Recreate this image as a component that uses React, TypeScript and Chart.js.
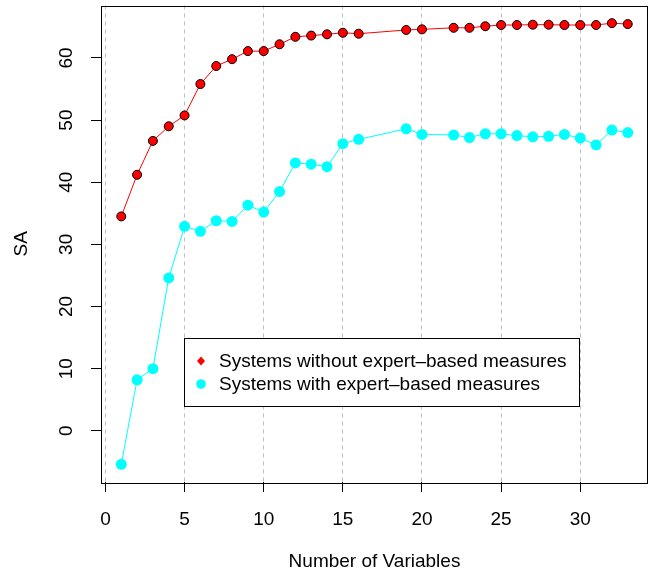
import React, { useEffect, useRef } from "react";
import { Chart, registerables } from "chart.js";

Chart.register(...registerables);

// ---- data ----
const xValues = [1, 2, 3, 4, 5, 6, 7, 8, 9, 10, 11, 12, 13, 14, 15, 16, 19, 20, 22, 23, 24, 25, 26, 27, 28, 29, 30, 31, 32, 33];
const withoutExpert = [34.5, 41.2, 46.65, 49.0, 50.75, 55.8, 58.7, 59.8, 61.1, 61.1, 62.2, 63.4, 63.6, 63.8, 64.05, 63.9, 64.5, 64.6, 64.85, 64.85, 65.1, 65.3, 65.3, 65.35, 65.35, 65.3, 65.3, 65.3, 65.6, 65.45];
const withExpert = [-5.4, 8.2, 10.0, 24.6, 32.9, 32.1, 33.8, 33.7, 36.3, 35.2, 38.5, 43.1, 42.9, 42.5, 46.2, 46.9, 48.6, 47.7, 47.6, 47.2, 47.8, 47.8, 47.5, 47.3, 47.4, 47.7, 47.1, 46.0, 48.4, 48.0];
const xTicks = [0, 5, 10, 15, 20, 25, 30];
const yTicks = [0, 10, 20, 30, 40, 50, 60];
const seriesLabels = ["Systems without expert\u2013based measures", "Systems with expert\u2013based measures"];
const xTitle = "Number of Variables";
const yTitle = "SA";

const FONT = '"Liberation Sans", Arial, Helvetica, sans-serif';
const FS = 19;
const RED = "#FF0000";
const CYAN = "#00FFFF";

// R-style axis range: data range extended by 4% on both sides
function rRange(vals: number[]): [number, number] {
  const lo = Math.min(...vals);
  const hi = Math.max(...vals);
  const d = (hi - lo) * 0.04;
  return [lo - d, hi + d];
}

export default function App() {
  const ref = useRef<HTMLCanvasElement | null>(null);

  useEffect(() => {
    if (!ref.current) return;
    const [xMin, xMax] = rRange(xValues);
    const [yMin, yMax] = rRange([...withoutExpert, ...withExpert]);
    const redPts = xValues.map((x, i) => ({ x, y: withoutExpert[i] }));
    const cyanPts = xValues.map((x, i) => ({ x, y: withExpert[i] }));

    const decor = {
      id: "decor",
      afterDraw(chart: any) {
        const ctx = chart.ctx as CanvasRenderingContext2D;
        const ca = chart.chartArea;
        const ys = chart.scales.y;
        ctx.save();
        // plot box
        ctx.strokeStyle = "#000";
        ctx.lineWidth = 1;
        ctx.strokeRect(Math.round(ca.left) + 0.5, Math.round(ca.top) + 0.5, Math.round(ca.right - ca.left) - 1, Math.round(ca.bottom - ca.top));
        // rotated y tick labels
        ctx.fillStyle = "#000";
        ctx.font = `${FS}px ${FONT}`;
        ctx.textAlign = "center";
        ctx.textBaseline = "middle";
        for (const v of yTicks) {
          const py = ys.getPixelForValue(v);
          ctx.save();
          ctx.translate(67, py);
          ctx.rotate(-Math.PI / 2);
          ctx.fillText(String(v), 0, 0);
          ctx.restore();
        }
        // legend
        const lx = 184, ly = 338, lw = 395, lh = 68;
        ctx.fillStyle = "#fff";
        ctx.fillRect(lx, ly, lw, lh);
        ctx.strokeStyle = "#000";
        ctx.strokeRect(lx + 0.5, ly + 0.5, lw, lh);
        const mx = 201;
        const y1 = 361, y2 = 384;
        // red diamond
        ctx.fillStyle = RED;
        ctx.beginPath();
        ctx.moveTo(mx, y1 - 4.5);
        ctx.lineTo(mx + 4, y1);
        ctx.lineTo(mx, y1 + 4.5);
        ctx.lineTo(mx - 4, y1);
        ctx.closePath();
        ctx.fill();
        // cyan circle
        ctx.fillStyle = CYAN;
        ctx.beginPath();
        ctx.arc(mx, y2, 4.8, 0, Math.PI * 2);
        ctx.fill();
        ctx.fillStyle = "#000";
        ctx.textAlign = "left";
        ctx.textBaseline = "alphabetic";
        ctx.fillText(seriesLabels[0], 219, 367);
        ctx.fillText(seriesLabels[1], 219, 390);
        ctx.restore();
      },
    };

    const chart = new Chart(ref.current, {
      type: "scatter",
      data: {
        datasets: [
          {
            label: seriesLabels[0],
            data: redPts,
            showLine: true,
            borderColor: RED,
            borderWidth: 1,
            pointStyle: "circle",
            pointRadius: 4.5,
            pointBackgroundColor: RED,
            pointBorderColor: "#000",
            pointBorderWidth: 1,
          },
          {
            label: seriesLabels[0] + " (marker)",
            data: redPts,
            showLine: false,
            pointStyle: "rectRot",
            pointRadius: 4,
            pointBackgroundColor: RED,
            pointBorderWidth: 0,
          },
          {
            label: seriesLabels[1],
            data: cyanPts,
            showLine: true,
            borderColor: CYAN,
            borderWidth: 1,
            pointStyle: "circle",
            pointRadius: 5.5,
            pointBackgroundColor: CYAN,
            pointBorderWidth: 0,
          },
        ],
      } as any,
      options: {
        animation: false,
        responsive: false,
        devicePixelRatio: 1,
        layout: { padding: { left: 0, top: 4, right: 9, bottom: 0 } },
        plugins: { legend: { display: false }, tooltip: { enabled: false } },
        scales: {
          x: {
            type: "linear",
            position: "bottom",
            min: xMin,
            max: xMax,
            afterBuildTicks: (s: any) => {
              s.ticks = xTicks.map((v) => ({ value: v }));
            },
            afterFit: (s: any) => {
              s.height = 94;
            },
            ticks: { color: "#000", font: { family: FONT, size: FS }, padding: 16, maxRotation: 0, autoSkip: false },
            grid: { color: "#BEBEBE", lineWidth: 1, drawTicks: true, tickLength: 10, tickColor: "#000", tickWidth: 1 },
            border: { display: false, dash: [4, 4] },
            title: { display: true, text: xTitle, color: "#000", font: { family: FONT, size: FS }, padding: { top: 0, bottom: 3 } },
          },
          y: {
            type: "linear",
            position: "left",
            min: yMin,
            max: yMax,
            afterBuildTicks: (s: any) => {
              s.ticks = yTicks.map((v) => ({ value: v }));
            },
            afterFit: (s: any) => {
              s.width = 101;
            },
            ticks: { display: false },
            grid: { drawOnChartArea: false, drawTicks: true, tickLength: 10, tickColor: "#000", tickWidth: 1 },
            border: { display: false },
            title: { display: true, text: yTitle, color: "#000", font: { family: FONT, size: FS }, padding: { top: 10, bottom: 0 } },
          },
        },
      } as any,
      plugins: [decor],
    });
    return () => chart.destroy();
  }, []);

  return (
    <div style={{ position: "fixed", left: 0, top: 0, width: 657, height: 576, background: "#fff" }}>
      <canvas ref={ref} width={657} height={576} style={{ display: "block" }} />
    </div>
  );
}
